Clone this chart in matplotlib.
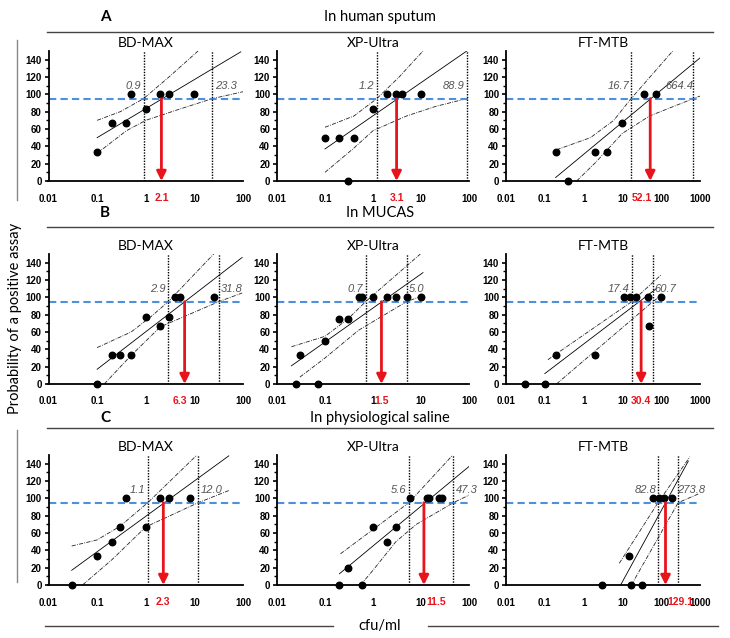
import numpy as np
import matplotlib.pyplot as plt

plt.rcParams['font.family'] = ['Liberation Sans', 'DejaVu Sans']

W, H = 730, 638

# ---- data ----
rows = ['In human sputum', 'In MUCAS', 'In physiological saline']
row_tags = ['A', 'B', 'C']
assays = ['BD-MAX', 'XP-Ultra', 'FT-MTB']

# A: human sputum
sp_bd_x = [0.1, 0.2, 0.4, 0.5, 1, 2, 3, 10]
sp_bd_y = [33.3, 66.7, 66.7, 100, 83.3, 100, 100, 100]
sp_bd_fit = [(0.1, 50), (90, 149)]
sp_bd_up = [(0.1, 70), (0.3, 80), (0.9, 95), (3, 120), (11.9, 150)]
sp_bd_lo = [(0.1, 32), (0.4, 58), (1, 70), (5, 83), (23.3, 95), (100, 103)]
sp_bd_ci = (0.9, 23.3)
sp_bd_lod = 2.1

sp_xp_x = [0.1, 0.2, 0.4, 0.3, 1, 2, 3, 4, 10]
sp_xp_y = [50, 50, 50, 0, 83.3, 100, 100, 100, 100]
sp_xp_fit = [(0.1, 37), (90, 150)]
sp_xp_up = [(0.1, 62), (0.4, 75), (1.2, 95), (3.5, 120), (11, 150)]
sp_xp_lo = [(0.1, 10), (0.4, 38), (1, 58), (5, 75), (20, 86), (88.9, 95), (100, 96)]
sp_xp_ci = (1.2, 88.9)
sp_xp_lod = 3.1

sp_ft_x = [0.2, 0.4, 2, 4, 10, 37, 75]
sp_ft_y = [33.3, 0, 33.3, 33.3, 66.7, 100, 100]
sp_ft_fit = [(0.19, 4), (1000, 142)]
sp_ft_up = [(0.2, 36), (1.5, 50), (6, 70), (16.7, 95), (198, 150)]
sp_ft_lo = [(0.66, 0), (2, 21), (10, 55), (50, 75), (664.4, 95), (1000, 98)]
sp_ft_ci = (16.7, 664.4)
sp_ft_lod = 52.1

# B: MUCAS
mu_bd_x = [0.1, 0.2, 0.3, 0.5, 1, 2, 3, 4, 5, 25]
mu_bd_y = [0, 33.3, 33.3, 33.3, 77.8, 66.7, 77.8, 100, 100, 100]
mu_bd_fit = [(0.1, 17), (96, 146)]
mu_bd_up = [(0.1, 42), (0.5, 60), (1.3, 78), (2.9, 95), (25, 150)]
mu_bd_lo = [(0.14, 0), (0.5, 33), (2, 66), (31.8, 95), (96, 105)]
mu_bd_ci = (2.9, 31.8)
mu_bd_lod = 6.3

mu_xp_x = [0.025, 0.07, 0.03, 0.1, 0.2, 0.3, 0.5, 0.6, 1, 2, 3, 5, 10]
mu_xp_y = [0, 0, 33.3, 50, 75, 75, 100, 100, 100, 100, 100, 100, 100]
mu_xp_fit = [(0.02, 21), (11, 128.5)]
mu_xp_up = [(0.02, 43), (0.1, 55), (0.3, 75), (0.7, 95), (9.7, 150)]
mu_xp_lo = [(0.03, 8), (0.1, 30), (0.5, 62), (5.0, 95), (11, 102)]
mu_xp_ci = (0.7, 5.0)
mu_xp_lod = 1.5

mu_ft_x = [0.03, 0.1, 0.2, 2, 11, 16, 22, 45, 100, 48]
mu_ft_y = [0, 0, 33.3, 33.3, 100, 100, 100, 100, 100, 66.7]
mu_ft_fit = [(0.1, 12), (75, 110)]
mu_ft_up = [(0.12, 28), (17.4, 95), (100, 126)]
mu_ft_lo = [(0.2, 0), (60.7, 95), (100, 102)]
mu_ft_ci = (17.4, 60.7)
mu_ft_lod = 30.4

# C: physiological saline
sa_bd_x = [0.03, 0.1, 0.2, 0.3, 0.4, 1, 2, 3, 8]
sa_bd_y = [0, 33.3, 50, 66.7, 100, 66.7, 100, 100, 100]
sa_bd_fit = [(0.03, 17), (51, 149)]
sa_bd_up = [(0.03, 45), (0.1, 52), (0.3, 68), (1.1, 95), (11.3, 150)]
sa_bd_lo = [(0.05, 0), (0.2, 29), (1, 67), (12.0, 95), (51, 109)]
sa_bd_ci = (1.1, 12.0)
sa_bd_lod = 2.3

sa_xp_x = [0.2, 0.6, 0.3, 1, 2, 3, 6, 13.5, 14.5, 24, 28]
sa_xp_y = [0, 0, 20, 66.7, 50, 66.7, 100, 100, 100, 100, 100]
sa_xp_fit = [(0.2, 13), (112, 139)]
sa_xp_up = [(0.21, 36), (1, 64), (5.6, 95), (46, 150)]
sa_xp_lo = [(0.55, 0), (1, 17), (3, 50), (8, 70), (47.3, 95), (112, 105)]
sa_xp_ci = (5.6, 47.3)
sa_xp_lod = 11.5

sa_ft_x = [3, 17, 32, 15, 60, 90, 116, 186]
sa_ft_y = [0, 0, 0, 33.3, 100, 100, 100, 100]
sa_ft_fit = [(9, 0), (500, 143)]
sa_ft_up = [(8.3, 25), (82.8, 95), (550, 148)]
sa_ft_lo = [(17, 0), (273.8, 95), (900, 105)]
sa_ft_ci = (82.8, 273.8)
sa_ft_lod = 129.1

# side of the line where each CI label sits (low, high)
label_side = [[('l', 'r'), ('l', 'l'), ('l', 'c')],
              [('l', 'r'), ('l', 'r'), ('l', 'r')],
              [('l', 'r'), ('l', 'r'), ('l', 'o')]]
# alignment of the red LOD label under the arrow
lod_align = [['center', 'center', 'right'],
             ['right', 'center', 'center'],
             ['center', 'left', 'left']]

panels = [
    [(sp_bd_x, sp_bd_y, sp_bd_fit, sp_bd_up, sp_bd_lo, sp_bd_ci, sp_bd_lod),
     (sp_xp_x, sp_xp_y, sp_xp_fit, sp_xp_up, sp_xp_lo, sp_xp_ci, sp_xp_lod),
     (sp_ft_x, sp_ft_y, sp_ft_fit, sp_ft_up, sp_ft_lo, sp_ft_ci, sp_ft_lod)],
    [(mu_bd_x, mu_bd_y, mu_bd_fit, mu_bd_up, mu_bd_lo, mu_bd_ci, mu_bd_lod),
     (mu_xp_x, mu_xp_y, mu_xp_fit, mu_xp_up, mu_xp_lo, mu_xp_ci, mu_xp_lod),
     (mu_ft_x, mu_ft_y, mu_ft_fit, mu_ft_up, mu_ft_lo, mu_ft_ci, mu_ft_lod)],
    [(sa_bd_x, sa_bd_y, sa_bd_fit, sa_bd_up, sa_bd_lo, sa_bd_ci, sa_bd_lod),
     (sa_xp_x, sa_xp_y, sa_xp_fit, sa_xp_up, sa_xp_lo, sa_xp_ci, sa_xp_lod),
     (sa_ft_x, sa_ft_y, sa_ft_fit, sa_ft_up, sa_ft_lo, sa_ft_ci, sa_ft_lod)],
]

# ---- layout (pixels) ----
col_left = [48.5, 277, 506]
col_w = [194.5, 192, 194]
row_zero = [181, 384, 585]
ax_h = 130

fig = plt.figure(figsize=(W / 100, H / 100), dpi=100)

title_font = ['Lato', 'DejaVu Sans']
ci_style = (0, (5, 1.5, 1, 1.5))
red = '#e8141b'

for r in range(3):
    for c in range(3):
        px, py, fit, up, lo, ci, lod = panels[r][c]
        ax = fig.add_axes([col_left[c] / W, 1 - row_zero[r] / H, col_w[c] / W, ax_h / H])
        xmax = 1000 if c == 2 else 100
        ax.set_xscale('log')
        ax.set_xlim(0.01, xmax)
        ax.set_ylim(0, 150)

        # fit and confidence curves
        ax.plot(*zip(*fit), color='black', lw=0.6)
        ax.plot(*zip(*up), color='#222222', lw=0.6, ls=ci_style)
        ax.plot(*zip(*lo), color='#222222', lw=0.6, ls=ci_style)

        # 95% line and CI bounds
        ax.axhline(95, color='#4f8fdc', lw=1.5, ls=(0, (3.5, 2)), zorder=2)
        for v in ci:
            ax.axvline(v, color='black', lw=1.0, ls=(0, (1, 1)), zorder=2)

        for v, side in zip(ci, label_side[r][c]):
            kw = dict(va='bottom', fontsize=8, style='italic', color='#555555')
            if side == 'l':
                ax.text(v / 1.12, 104, f'{v:.1f}', ha='right', **kw)
            elif side == 'r':
                ax.text(v * 1.12, 104, f'{v:.1f}', ha='left', **kw)
            elif side == 'o':
                ax.text(v / 1.1, 104, f'{v:.1f}', ha='left', **kw)
            else:
                ax.text(v, 104, f'{v:.1f}', ha='right', **kw)

        ax.scatter(px, py, s=22, color='black', zorder=5, clip_on=False)

        # LOD arrow
        ax.annotate('', xy=(lod, 0), xytext=(lod, 95),
                    arrowprops=dict(arrowstyle='-|>', color=red, lw=2,
                                    mutation_scale=14, shrinkA=0, shrinkB=0),
                    zorder=6)
        ha = lod_align[r][c]
        lx = lod * {'center': 1.0, 'left': 1.15, 'right': 1.1}[ha]
        ax.text(lx, -19.5, f'{lod:.1f}', ha=ha, va='center',
                color=red, fontsize=7.5, fontweight='bold', zorder=7)

        # axes style
        for s in ['top', 'right']:
            ax.spines[s].set_visible(False)
        for s in ['left', 'bottom']:
            ax.spines[s].set_linewidth(1.3)
        ticks = [0.01, 0.1, 1, 10, 100] + ([1000] if c == 2 else [])
        ax.set_xticks(ticks)
        ax.set_xticklabels(['0.01', '0.1', '1', '10', '100', '1000'][:len(ticks)])
        ax.xaxis.set_minor_locator(plt.NullLocator())
        ax.set_yticks(range(0, 141, 20))
        ax.set_yticks(range(10, 141, 20), minor=True)
        ax.tick_params(axis='both', which='major', labelsize=7, width=1.2, length=3, pad=2)
        ax.tick_params(axis='y', which='minor', width=1.0, length=2)
        ax.tick_params(axis='x', length=0, pad=9)
        for lab in ax.get_xticklabels() + ax.get_yticklabels():
            lab.set_fontweight('bold')

        ax.set_title(assays[c], fontsize=10, pad=3, family=title_font)

# section headers
head_y = [17, 213, 418]
line_y = [32, 227, 428]
for r in range(3):
    fig.text(100 / W, 1 - head_y[r] / H, row_tags[r], fontsize=11, fontweight='bold',
             family=title_font, va='center', ha='left')
    fig.text(380 / W, 1 - head_y[r] / H, rows[r], fontsize=10.5, family=title_font,
             va='center', ha='center')
    fig.add_artist(plt.Line2D([47 / W, 713 / W], [1 - line_y[r] / H] * 2,
                              color='#444444', lw=1.0))

# y label with side lines
fig.text(15 / W, 1 - 318 / H, 'Probability of a positive assay', rotation=90,
         fontsize=10.5, family=title_font, va='center', ha='center')
fig.add_artist(plt.Line2D([17 / W] * 2, [1 - 40 / H, 1 - 200 / H], color='#888888', lw=1.0))
fig.add_artist(plt.Line2D([17 / W] * 2, [1 - 430 / H, 1 - 582 / H], color='#888888', lw=1.0))

# x label with side lines
fig.text(380 / W, 1 - 626 / H, 'cfu/ml', fontsize=10.5, family=title_font,
         va='center', ha='center')
fig.add_artist(plt.Line2D([45 / W, 333 / W], [1 - 626 / H] * 2, color='#444444', lw=1.0))
fig.add_artist(plt.Line2D([428 / W, 718 / W], [1 - 626 / H] * 2, color='#444444', lw=1.0))

fig.savefig('out.png', dpi=100)
